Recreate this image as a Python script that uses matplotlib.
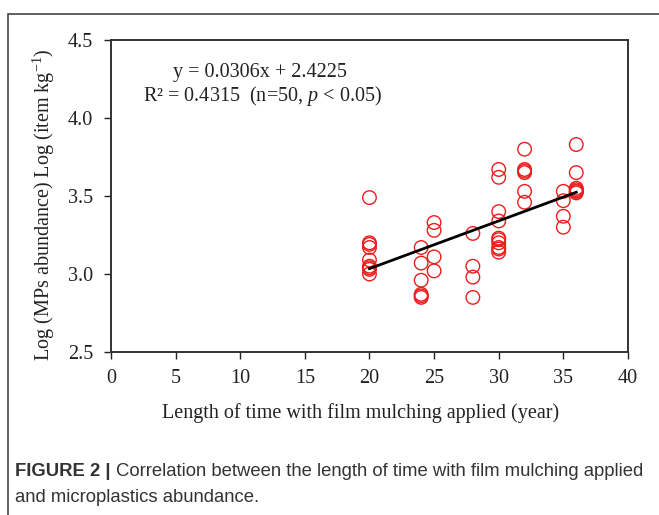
import numpy as np
import matplotlib
matplotlib.use("Agg")
import matplotlib.pyplot as plt
from matplotlib.patches import Rectangle

# years of film mulching and log(MPs abundance)
years = [20, 20, 20, 20, 20, 20, 20, 20, 20,
         24, 24, 24, 24, 24, 24,
         25, 25, 25, 25,
         28, 28, 28, 28,
         30, 30, 30, 30, 30, 30, 30, 30, 30, 30,
         32, 32, 32, 32, 32, 32,
         35, 35, 35, 35,
         36, 36, 36, 36, 36, 36, 36]
log_abund = [3.49, 3.20, 3.19, 3.17, 3.09, 3.05, 3.04, 3.03, 3.00,
             3.17, 3.07, 2.96, 2.87, 2.86, 2.85,
             3.33, 3.28, 3.11, 3.02,
             3.26, 3.05, 2.98, 2.85,
             3.67, 3.62, 3.40, 3.34, 3.23, 3.22, 3.20, 3.17, 3.16, 3.14,
             3.80, 3.67, 3.66, 3.65, 3.53, 3.46,
             3.53, 3.47, 3.37, 3.30,
             3.83, 3.65, 3.55, 3.54, 3.53, 3.53, 3.52]

slope = 0.0306
intercept = 2.4225
x_ticks = [0, 5, 10, 15, 20, 25, 30, 35, 40]
y_ticks = [2.5, 3.0, 3.5, 4.0, 4.5]

plt.rcParams['font.family'] = ['Liberation Serif', 'DejaVu Serif']
plt.rcParams['mathtext.fontset'] = 'custom'
plt.rcParams['mathtext.rm'] = 'Liberation Serif'
plt.rcParams['mathtext.it'] = 'Liberation Serif:italic'

fs = 14.5
txt_col = '#222222'

fig = plt.figure(figsize=(6.59, 5.15), dpi=100)
ax = fig.add_axes([0.1684, 0.3165, 0.7845, 0.6058])

ax.scatter(years, log_abund, s=95, facecolors='none', edgecolors='#ee1c1c',
           linewidths=1.0, zorder=3)

# fitted line over the range of the data
xs = np.array([min(years), max(years)])
ax.plot(xs, slope * xs + intercept, color='black', lw=2.0, zorder=4)

ax.set_xlim(0, 40)
ax.set_ylim(2.5, 4.5)
ax.set_xticks(x_ticks)
ax.set_yticks(y_ticks)
ax.set_xticklabels([str(v) for v in x_ticks])
ax.set_yticklabels([f"{v:.1f}" for v in y_ticks])
ax.tick_params(direction='out', length=5, width=1.0, labelsize=fs,
               colors=txt_col)
ax.tick_params(axis='x', pad=7)
ax.tick_params(axis='y', pad=8)
for sp in ax.spines.values():
    sp.set_linewidth(1.4)
    sp.set_color('#333333')

ax.set_xlabel("Length of time with film mulching applied (year)",
              fontsize=fs, color=txt_col, labelpad=11)
ax.set_ylabel(r"Log (MPs abundance) Log (item kg$^{\mathregular{-1}}$)",
              fontsize=fs, color=txt_col, labelpad=8)
ax.xaxis.label.set_x(0.483)
ax.yaxis.label.set_y(0.471)

ax.text(0.12, 0.895, "y = 0.0306x + 2.4225", transform=ax.transAxes,
        fontsize=fs, color=txt_col, va='center', ha='left')
ax.text(0.062, 0.822, "R² = 0.4315  (n=50, $p$ < 0.05)", transform=ax.transAxes,
        fontsize=fs, color=txt_col, va='center', ha='left')

# outer frame of the figure panel
fig.patches.append(Rectangle((8 / 659, -0.05), 1.1, 1 - 14 / 515 + 0.05,
                             transform=fig.transFigure, fill=False,
                             edgecolor='#444444', lw=1.2))

cap_font = ['Liberation Sans', 'DejaVu Sans']
cap_fs = 13.3
cap_col = '#333333'
bold = fig.text(15 / 659, 1 - 471 / 515, "FIGURE 2 |", family=cap_font,
                fontweight='bold', fontsize=cap_fs, color=cap_col, va='center')
r = fig.canvas.get_renderer()
bb = bold.get_window_extent(renderer=r)
fig.text((bb.x1 + 5) / 659, 1 - 471 / 515,
         "Correlation between the length of time with film mulching applied",
         family=cap_font, fontsize=cap_fs, color=cap_col, va='center')
fig.text(15 / 659, 1 - 497 / 515, "and microplastics abundance.",
         family=cap_font, fontsize=cap_fs, color=cap_col, va='center')

fig.savefig("out.png", dpi=100)
